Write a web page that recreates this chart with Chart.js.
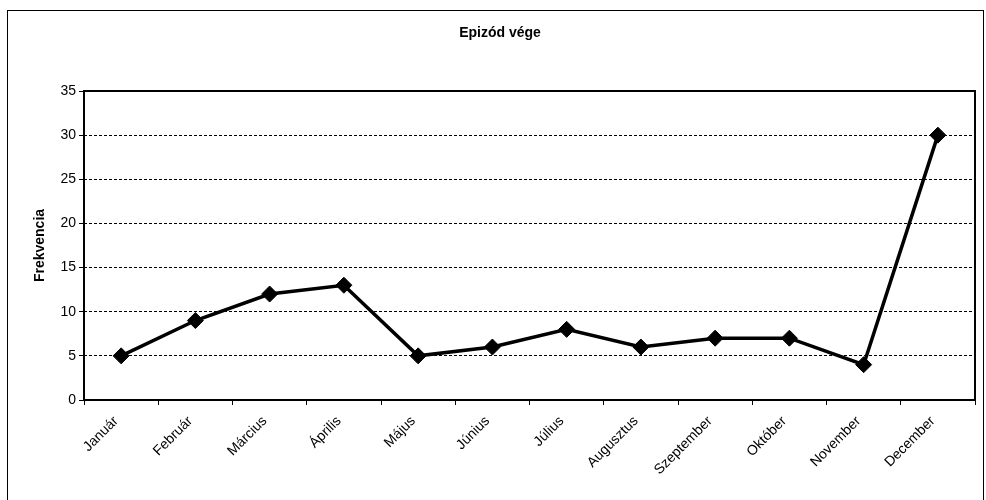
<!DOCTYPE html>
<html>
<head>
<meta charset="utf-8">
<script src="https://cdn.jsdelivr.net/npm/chart.js@4.4.1/dist/chart.umd.min.js"></script>
<style>
    html, body { margin: 0; padding: 0; background: #fff; }
    #wrap { width: 986px; height: 500px; }
</style>
</head>
<body>
<div id="wrap"><canvas id="episodeChart"></canvas></div>
<script>
// Monthly counts of episode endings
const months = ["Január", "Február", "Március", "Április", "Május", "Június",
                "Július", "Augusztus", "Szeptember", "Október", "November", "December"];
const frequency = [5, 9, 12, 13, 5, 6, 8, 6, 7, 7, 4, 30];
const yTicks = [0, 5, 10, 15, 20, 25, 30, 35];

const chartTitle = "Epizód vége";
const yTitle = "Frekvencia";

Chart.defaults.font.family = "'Liberation Sans', Arial, sans-serif";
Chart.defaults.font.size = 14;
Chart.defaults.color = "#000";

// Outer box, plot frame and the heading
const framePlugin = {
    id: "frame",
    afterDraw(chart) {
        const ctx = chart.ctx;
        const a = chart.chartArea;
        ctx.save();
        ctx.strokeStyle = "#000";
        ctx.lineWidth = 1;
        ctx.strokeRect(7.5, 10.5, 976, 500);

        ctx.lineWidth = 2;
        ctx.strokeRect(a.left, a.top, a.right - a.left, a.bottom - a.top);

        ctx.font = "bold 14px 'Liberation Sans', Arial, sans-serif";
        ctx.fillStyle = "#000";
        ctx.textAlign = "center";
        ctx.textBaseline = "middle";
        ctx.fillText(chartTitle, 500, 33);
        ctx.restore();
    }
};

const ctx = document.getElementById("episodeChart").getContext("2d");

new Chart(ctx, {
    type: "line",
    data: {
        labels: months,
        datasets: [{
            data: frequency,
            borderColor: "#000",
            borderWidth: 3.5,
            tension: 0,
            pointStyle: "rectRot",
            pointRadius: 8,
            pointBackgroundColor: "#000",
            pointBorderColor: "#000",
            pointBorderWidth: 1
        }]
    },
    options: {
        responsive: true,
        maintainAspectRatio: false,
        animation: false,
        layout: {
            padding: { left: 8, right: 11, top: 91, bottom: 0 }
        },
        plugins: {
            legend: { display: false },
            tooltip: { enabled: false }
        },
        scales: {
            x: {
                offset: true,
                grid: {
                    offset: true,
                    drawOnChartArea: false,
                    drawTicks: true,
                    tickLength: 5,
                    color: "#000"
                },
                border: { display: false },
                ticks: {
                    autoSkip: false,
                    minRotation: 45,
                    maxRotation: 45,
                    padding: 8,
                    labelOffset: -5
                },
                afterFit(scale) {
                    scale.height = 100;
                }
            },
            y: {
                min: 0,
                max: 35,
                afterBuildTicks(scale) {
                    scale.ticks = yTicks.map(v => ({ value: v }));
                },
                grid: {
                    color: "#000",
                    tickLength: 5
                },
                border: { display: false, dash: [3, 2] },
                ticks: { padding: 3 },
                title: {
                    display: true,
                    text: yTitle,
                    font: { weight: "bold", size: 14 },
                    padding: { top: 24, bottom: 0 }
                },
                afterFit(scale) {
                    scale.width = 76;
                }
            }
        }
    },
    plugins: [framePlugin]
});
</script>
</body>
</html>
